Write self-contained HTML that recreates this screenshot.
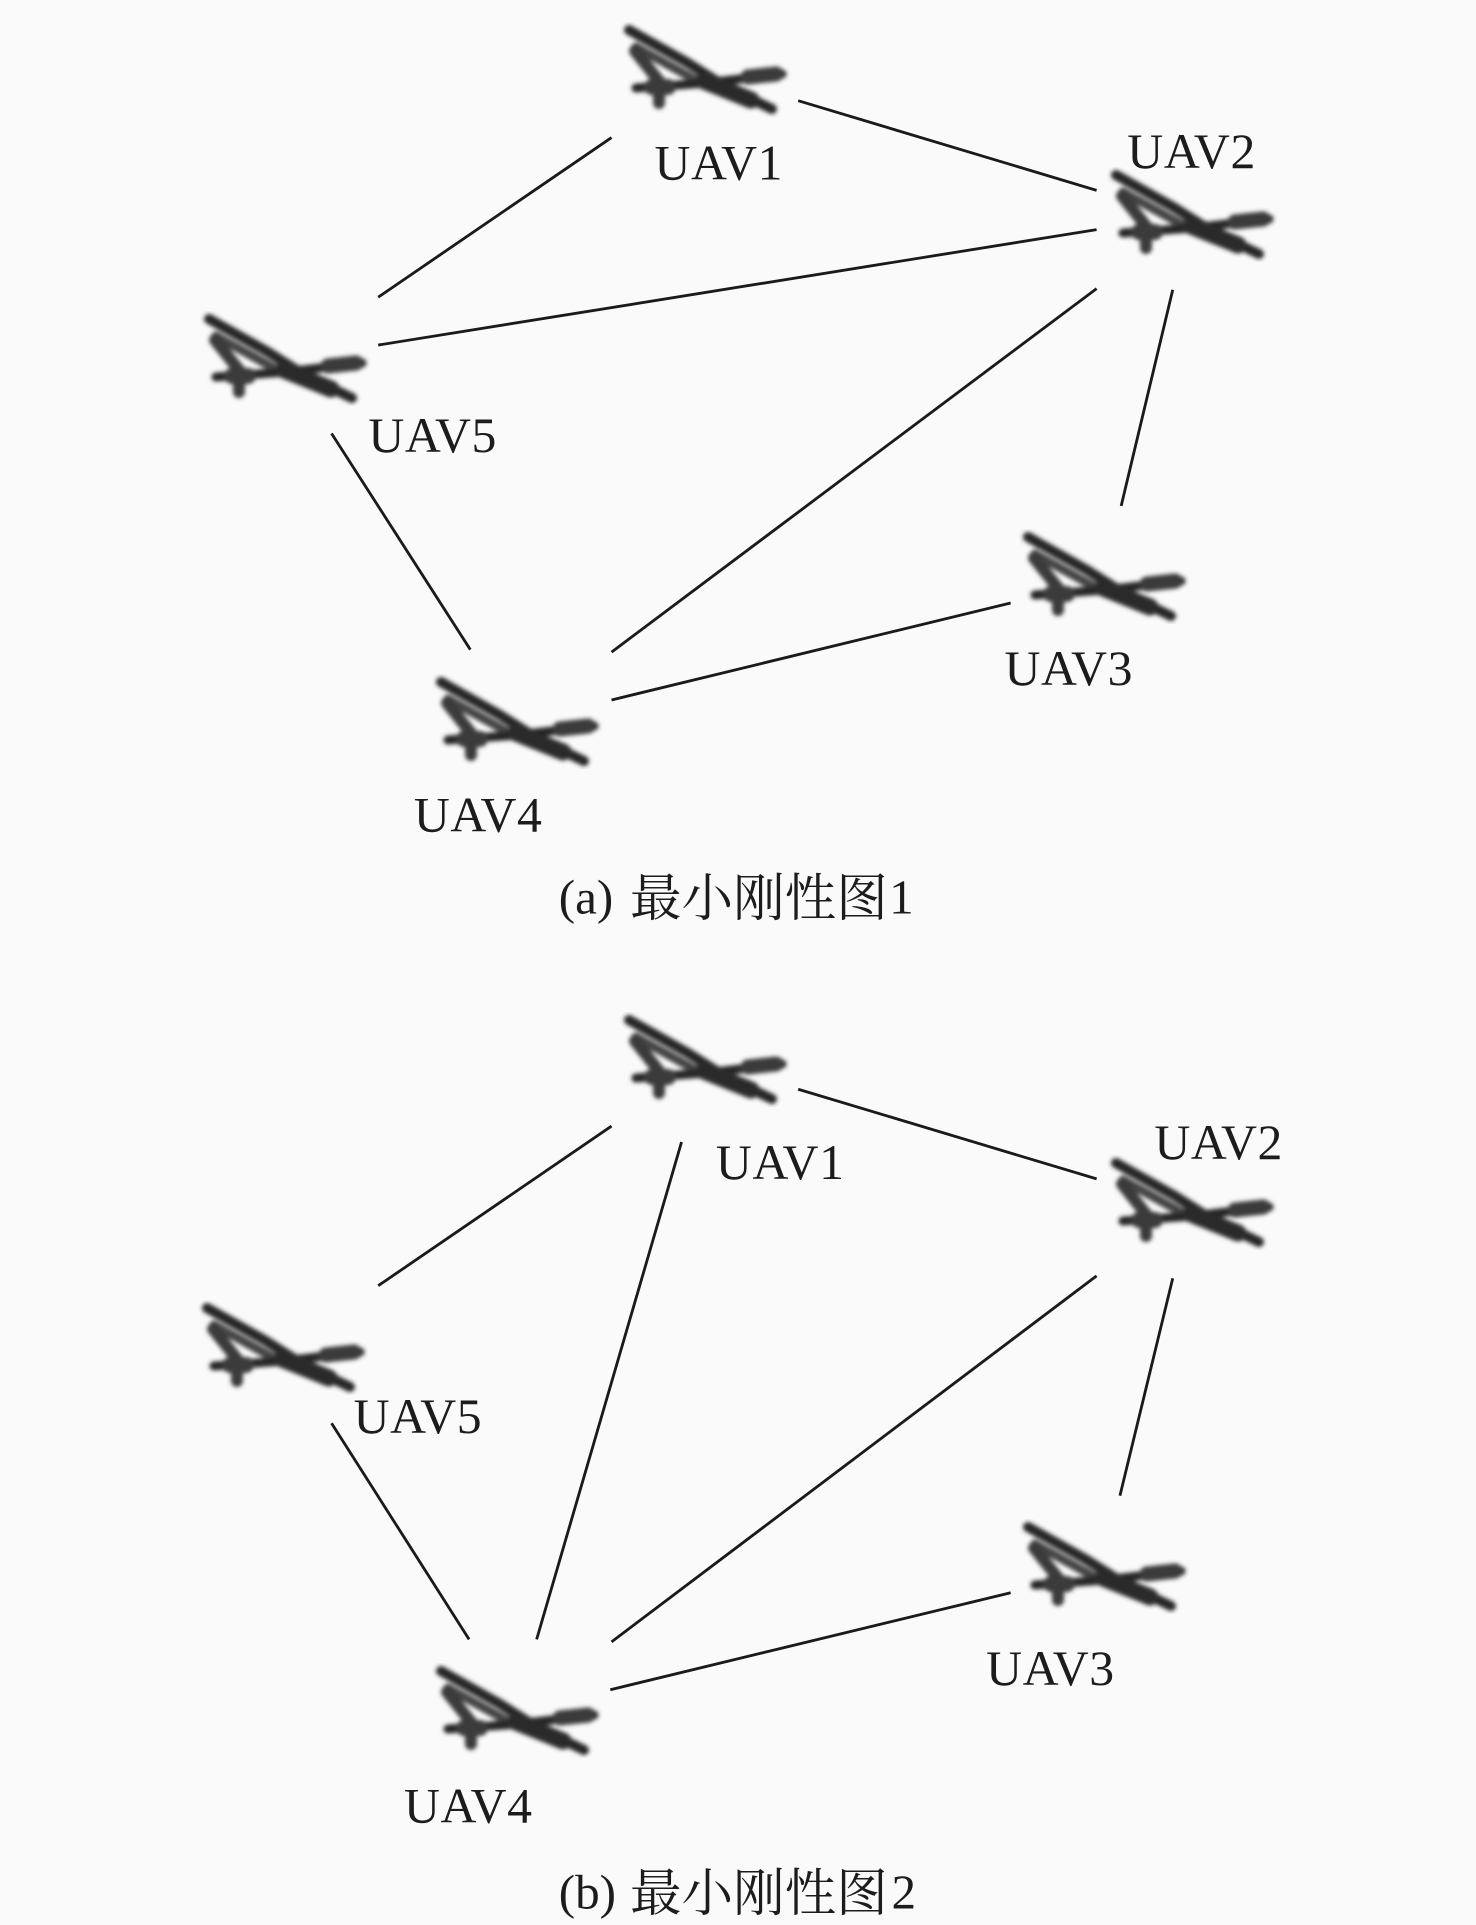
<!DOCTYPE html>
<html><head><meta charset="utf-8">
<style>html,body{margin:0;padding:0;background:#fafafa}svg{display:block}
text{font-family:"Liberation Serif","Noto Serif CJK SC",serif;fill:#1c1c1c}</style></head>
<body>
<svg width="1476" height="1925" viewBox="0 0 1476 1925" xmlns="http://www.w3.org/2000/svg">
<defs>
<filter id="b" x="-10%" y="-10%" width="120%" height="120%"><feGaussianBlur stdDeviation="2.1"/></filter>
<g id="p" filter="url(#b)" fill="none" stroke="#262626" stroke-linecap="round">
<path d="M3,3 L62,36 L100,60 L146,82" stroke-width="10"/>
<path d="M10,20 L75,56" stroke-width="9" stroke="#444"/>
<path d="M9,24 L33,54 L33,76" stroke-width="12" stroke="#3a3a3a"/>
<path d="M10,61 L80,56 L156,47" stroke-width="9"/>
<path d="M78,54 L125,73" stroke-width="17" stroke="#2c2c2c"/>
<path d="M122,50 L150,47" stroke-width="15" stroke="#3a3a3a"/>
<path d="M26,60 L42,60" stroke-width="16" stroke="#3a3a3a"/>
</g>
</defs>
<rect width="1476" height="1925" fill="#fafafa"/>
<use href="#p" x="626" y="27"/><use href="#p" x="1113" y="172"/><use href="#p" x="206" y="316"/><use href="#p" x="1025" y="534"/><use href="#p" x="438" y="679"/>
<use href="#p" x="626" y="1017"/><use href="#p" x="1113" y="1160"/><use href="#p" x="204" y="1305"/><use href="#p" x="1025" y="1524"/><use href="#p" x="438" y="1668"/>
<g transform="scale(1.228)">
<g stroke="#1a1a1a" stroke-width="2.3" fill="none">
<path d="M650,82L893,155M498,112L308,242M893,187L308,281M893,235L498,531M955,236L913,412M270,353L383,529M823,491L498,570"/>
<path d="M650,887L893,960M498,917L308,1047M555,930L437,1335M893,1039L498,1337M955,1041L912,1218M270,1159L382,1335M823,1297L497,1376"/>
</g>
<g font-size="40.5" letter-spacing="0.5">
<text x="533" y="146">UAV1</text><text x="918" y="137">UAV2</text><text x="300" y="368">UAV5</text><text x="818" y="558">UAV3</text><text x="337" y="677">UAV4</text>
<text x="583" y="960">UAV1</text><text x="940" y="944">UAV2</text><text x="288" y="1167">UAV5</text><text x="803" y="1372">UAV3</text><text x="329" y="1484">UAV4</text>
</g>
<g font-size="40">
<text x="455" y="744">(a)</text><text x="513" y="746" font-size="42">最小刚性图</text><text x="724" y="744">1</text>
<text x="455" y="1554">(b)</text><text x="513" y="1556" font-size="42">最小刚性图</text><text x="726" y="1554">2</text>
</g>
</g>
</svg>
</body></html>
